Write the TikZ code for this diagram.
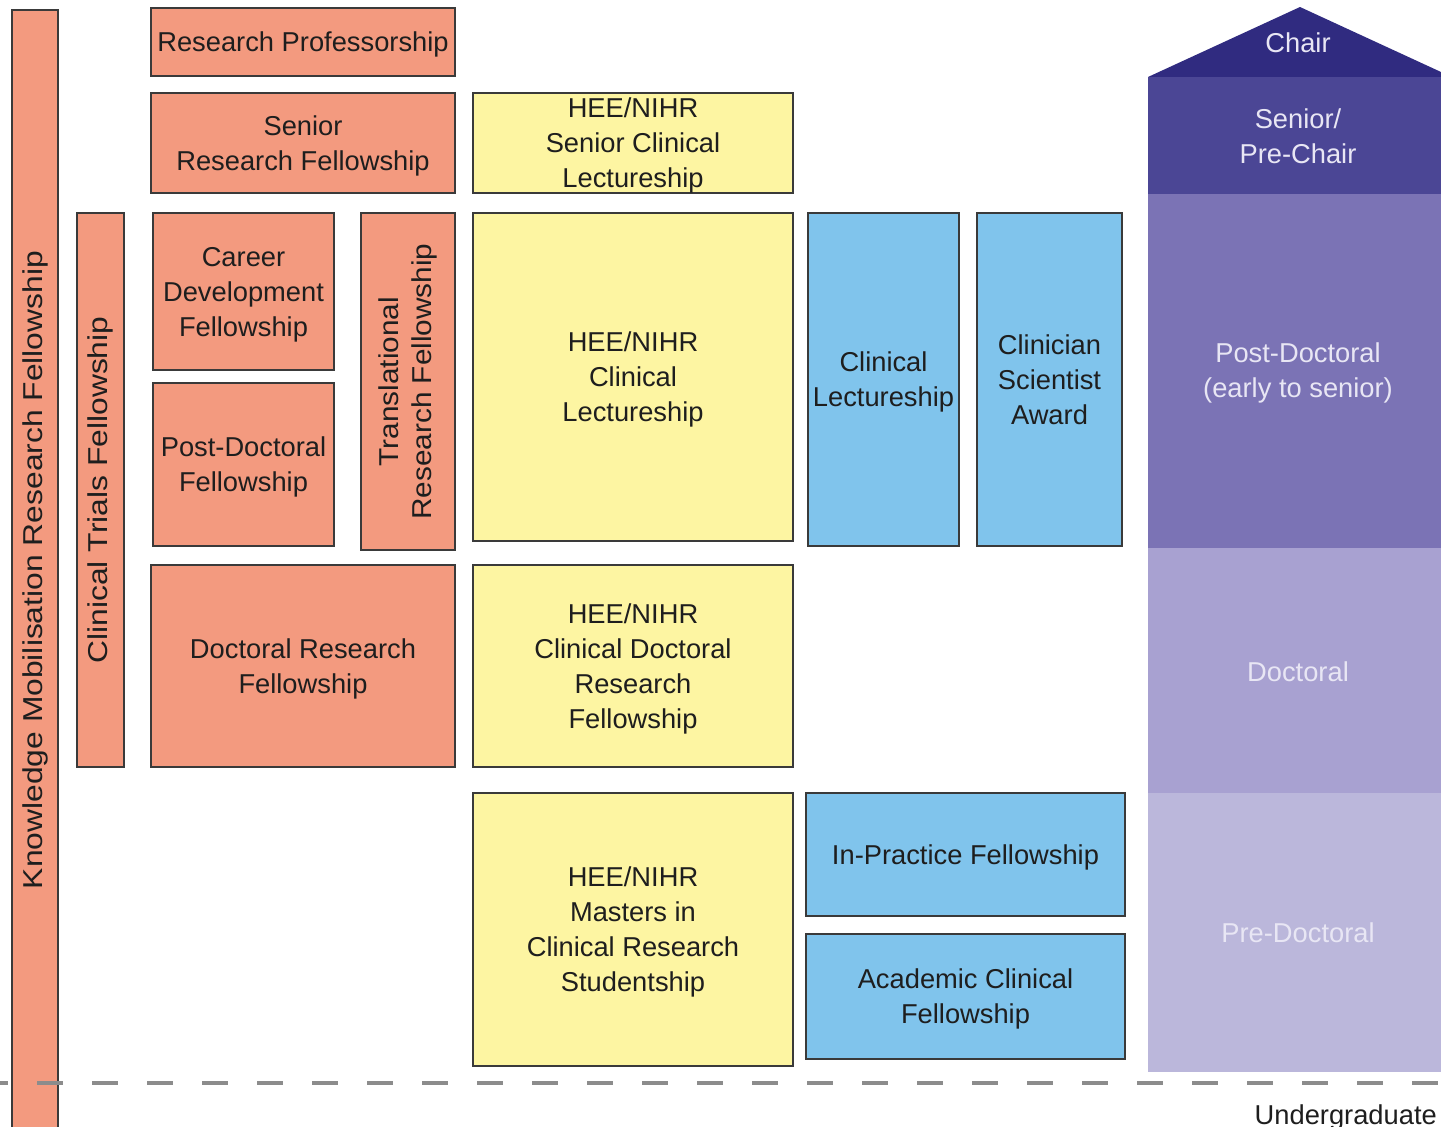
\documentclass[tikz,border=0pt]{standalone}
\usepackage{fontspec}
\setmainfont{Liberation Sans}
\definecolor{salmon}{HTML}{F39A7F}
\definecolor{yel}{HTML}{FDF5A2}
\definecolor{blu}{HTML}{80C4EC}
\definecolor{edge}{HTML}{3A3A3A}
\definecolor{txt}{HTML}{1E1E1E}
\definecolor{pchair}{HTML}{302B80}
\definecolor{psenior}{HTML}{4B4695}
\definecolor{ppost}{HTML}{7B73B5}
\definecolor{pdoc}{HTML}{A8A1D1}
\definecolor{ppre}{HTML}{BBB7DB}
\definecolor{ptxt}{HTML}{E8E6F4}
\definecolor{dashc}{HTML}{8C8C8C}
\newcommand{\fsz}{\fontsize{27.3}{35}\selectfont}
\newcommand{\wide}[2]{\scalebox{#1}[1]{#2}}
\begin{document}
\begin{tikzpicture}[x=1pt,y=-1pt,
  box/.style={draw=edge, line width=2.5pt, align=center, font=\fsz, inner sep=0pt, text=txt, text depth=-3pt},
  sal/.style={box, fill=salmon},
  yelbox/.style={box, fill=yel},
  blubox/.style={box, fill=blu},
  rottext/.style={rotate=90, text=txt, inner sep=0pt, align=center, font=\fontsize{27.3}{33}\selectfont},
  band/.style={align=center, font=\fsz, text=ptxt, inner sep=0pt}]
\useasboundingbox (0,0) rectangle (1441,1127);
\fill[white] (0,0) rectangle (1441,1127);
% purple column
\fill[pchair] (1148,77) -- (1300,7) -- (1441,72) -- (1441,77) -- cycle;
\fill[psenior] (1148,77) rectangle (1441,194);
\fill[ppost] (1148,194) rectangle (1441,548);
\fill[pdoc] (1148,548) rectangle (1441,793);
\fill[ppre] (1148,793) rectangle (1441,1072);
\node[band] (chair) at (1298,43) {Chair};
\node[band] (senior) at (1298,136) {Senior/\\Pre-Chair};
\node[band] (post) at (1298,373) {Post-Doctoral\\(early to senior)};
\node[band] (doc) at (1298,672) {Doctoral};
\node[band] (pre) at (1298,933) {Pre-Doctoral};
% salmon boxes
\node[sal, minimum width=46, minimum height=1120] (kmrf) at (35,570) {};
\node[rottext] (kmrft) at (kmrf.center) {\wide{1.165}{Knowledge Mobilisation Research Fellowship}};
\node[sal, minimum width=47, minimum height=554] (ctf) at (100.5,490) {};
\node[rottext] (ctft) at (ctf.center) {\wide{1.165}{Clinical Trials Fellowship}};
\node[sal, minimum width=304, minimum height=68] (rp) at (303,42) {Research Professorship};
\node[sal, minimum width=304, minimum height=100] (srf) at (303,143) {Senior\\Research Fellowship};
\node[sal, minimum width=181, minimum height=157] (cdf) at (243.5,291.5) {Career\\Development\\Fellowship};
\node[sal, minimum width=181, minimum height=163] (pdf) at (243.5,464.5) {Post-Doctoral\\Fellowship};
\node[sal, minimum width=94, minimum height=337] (trf) at (408,381.5) {};
\node[rottext] (trft) at (trf.center) {\wide{1.09}{Translational}\\\wide{1.09}{Research Fellowship}};
\node[sal, minimum width=304, minimum height=202] (drf) at (303,666) {Doctoral Research\\Fellowship};
% yellow boxes
\node[yelbox, minimum width=320, minimum height=100] (hscl) at (633,143) {HEE/NIHR\\Senior Clinical\\Lectureship};
\node[yelbox, minimum width=320, minimum height=328] (hcl) at (633,377) {HEE/NIHR\\Clinical\\Lectureship};
\node[yelbox, minimum width=320, minimum height=202] (hcdrf) at (633,666) {HEE/NIHR\\Clinical Doctoral\\Research\\Fellowship};
\node[yelbox, minimum width=320, minimum height=273] (hm) at (633,929.5) {HEE/NIHR\\Masters in\\Clinical Research\\Studentship};
% blue boxes
\node[blubox, minimum width=151, minimum height=333] (cl) at (883.5,379.5) {Clinical\\Lectureship};
\node[blubox, minimum width=145, minimum height=333] (csa) at (1049.5,379.5) {Clinician\\Scientist\\Award};
\node[blubox, minimum width=319, minimum height=123] (ipf) at (965.5,854.5) {In-Practice Fellowship};
\node[blubox, minimum width=319, minimum height=125] (acf) at (965.5,996.5) {Academic Clinical\\Fellowship};
% dashed line
\coordinate (dl) at (0,1083);
\coordinate (dr) at (1441,1083);
\draw[dashc, line width=4pt, dash pattern=on 26pt off 29pt, dash phase=18pt] (dl) -- (dr);
\node[font=\fsz, text=txt, anchor=base east, inner sep=0pt] (ug) at (1437,1124) {Undergraduate};
\end{tikzpicture}
\end{document}
